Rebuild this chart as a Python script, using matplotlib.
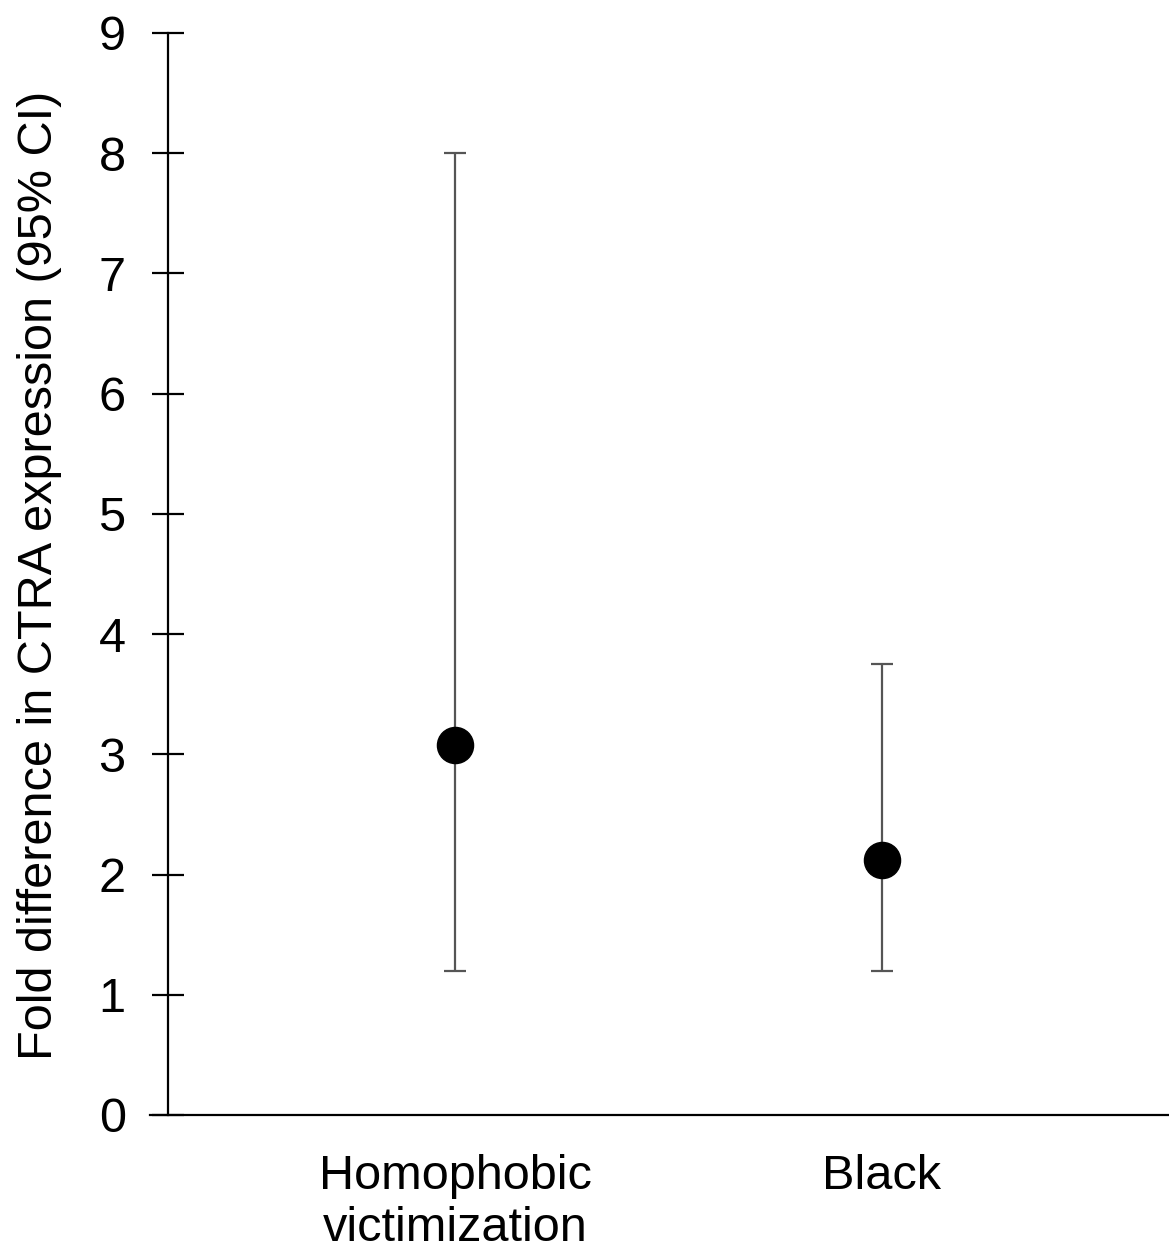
import numpy as np
import matplotlib.pyplot as plt

plt.rcParams["font.family"] = ["Liberation Sans", "DejaVu Sans"]

# data
categories = ["Homophobic\nvictimization", "Black"]
fold_diff = [3.08, 2.12]
ci_low = [1.20, 1.20]
ci_high = [8.00, 3.75]

W, H = 1169, 1257
fig = plt.figure(figsize=(W / 100, H / 100), dpi=100)
# axes box in pixels: left 150 .. right 1169, y 0 at 1115, 9 at 33
ax = fig.add_axes([150 / W, 1 - 1115 / H, (W - 150) / W, (1115 - 33) / H])

x = np.arange(len(categories))
y = np.array(fold_diff)
yerr = np.vstack([y - np.array(ci_low), np.array(ci_high) - y])

ax.errorbar(x, y, yerr=yerr, fmt="none", ecolor="#555555", elinewidth=1.6,
            capsize=8, capthick=1.6, zorder=2)
ax.plot(x, y, "o", color="black", markersize=26, zorder=3)

# categories at px 455 and 882
px_per = 882 - 455
ax.set_xlim((150 - 455) / px_per, (W - 455) / px_per)
ax.set_ylim(0, 9)
ax.spines["left"].set_position(("data", (168 - 455) / px_per))
ax.spines["top"].set_visible(False)
ax.spines["right"].set_visible(False)
ax.spines["left"].set_linewidth(1.6)
ax.spines["bottom"].set_linewidth(1.6)

ax.set_yticks(range(0, 10))
ax.tick_params(axis="y", direction="inout", length=23, width=1.6,
               labelsize=35, pad=19)
ax.set_xticks(x)
ax.set_xticklabels(categories, fontsize=35, linespacing=1.2)
ax.tick_params(axis="x", length=0, pad=28)

fig.text(40 / W, 1 - 575 / H, "Fold difference in CTRA expression (95% CI)",
         rotation=90, fontsize=35, ha="center", va="center")

fig.savefig("out.png", dpi=100)
